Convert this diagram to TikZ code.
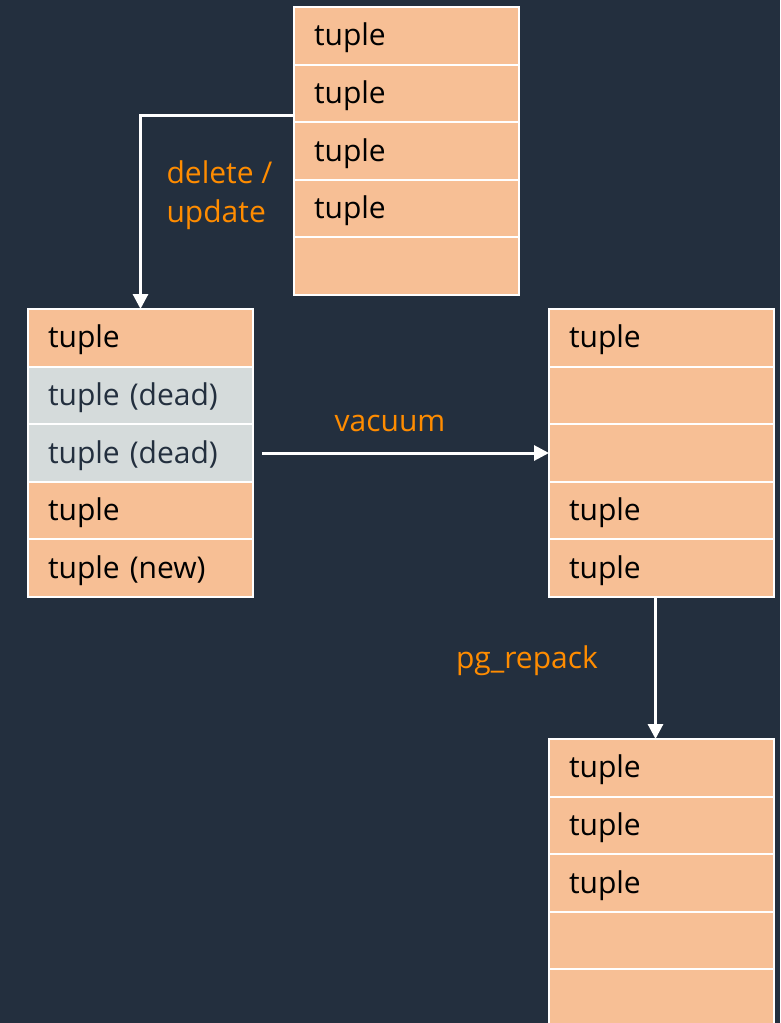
\documentclass[tikz,border=0pt]{standalone}
\usepackage{fontspec}
\setmainfont{Open Sans}
\usepackage{tikz}
\usetikzlibrary{arrows.meta,positioning}

\definecolor{inkbg}{HTML}{232F3E}
\definecolor{tuplefill}{HTML}{F7BF95}
\definecolor{deadfill}{HTML}{D5DBDB}
\definecolor{opcolor}{HTML}{FF8C00}

\begin{document}
\begin{tikzpicture}[
  x=1pt,y=-1pt,
  node distance=0pt,
  cell/.style={draw=white,line width=2pt,fill=tuplefill,outer sep=0pt,
    inner xsep=20pt,text width=185pt,minimum height=57.6pt,align=left,
    text height=26pt,text depth=6pt,
    font=\fontsize{30}{34}\selectfont,text=black},
  deadcell/.style={cell,fill=deadfill,text=inkbg},
  oplabel/.style={font=\fontsize{30}{39}\selectfont,text=opcolor,align=left},
  flow/.style={draw=white,line width=3pt,
    -{Triangle[length=15pt,width=15pt]}}
  ]

  \fill[inkbg] (0,0) rectangle (780,1023);
  \useasboundingbox (0,0) rectangle (780,1023);

  % page before the change
  \node[cell,anchor=north west] (t1) at (294,7) {tuple};
  \node[cell] (t2) [below=of t1] {tuple};
  \node[cell] (t3) [below=of t2] {tuple};
  \node[cell] (t4) [below=of t3] {tuple};
  \node[cell] (t5) [below=of t4] {};

  % page with dead tuples
  \node[cell,anchor=north west] (l1) at (28,309) {tuple};
  \node[deadcell] (l2) [below=of l1] {tuple (dead)};
  \node[deadcell] (l3) [below=of l2] {tuple (dead)};
  \node[cell]     (l4) [below=of l3] {tuple};
  \node[cell]     (l5) [below=of l4] {tuple (new)};

  % page after vacuum
  \node[cell,anchor=north west] (r1) at (549,309) {tuple};
  \node[cell] (r2) [below=of r1] {};
  \node[cell] (r3) [below=of r2] {};
  \node[cell] (r4) [below=of r3] {tuple};
  \node[cell] (r5) [below=of r4] {tuple};

  % page after pg_repack
  \node[cell,anchor=north west] (p1) at (549,739) {tuple};
  \node[cell] (p2) [below=of p1] {tuple};
  \node[cell] (p3) [below=of p2] {tuple};
  \node[cell] (p4) [below=of p3] {};
  \node[cell] (p5) [below=of p4] {};

  \coordinate (upd) at (294,115);

  \draw[flow] (upd) -| (l1.north);
  \draw[flow,shorten <=9pt] (l3) -- (r3);
  \draw[flow] ([xshift=-6pt]r5.south) -- ([xshift=-6pt]p1.north);

  \node[oplabel,anchor=west] (lbupd) at (163,195) {delete /\\update};
  \node[oplabel] (lbvac) at (390,423) {vacuum};
  \node[oplabel] (lbrep) at (527,661) {pg\_repack};
\end{tikzpicture}
\end{document}
